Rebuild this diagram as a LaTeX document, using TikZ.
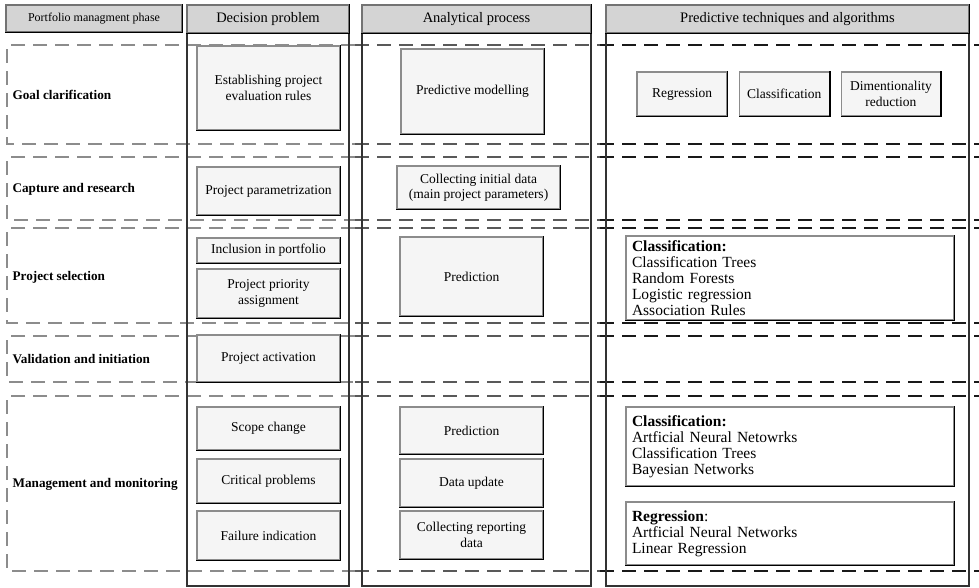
\documentclass[tikz,border=0pt]{standalone}
\usepackage{fontspec}
\setmainfont{Liberation Serif}
\usetikzlibrary{positioning}

\def\boxfont{\fontsize{13.5}{15.5}\selectfont}
\def\listfont{\fontsize{15.5}{16}\selectfont}

\begin{document}
\begin{tikzpicture}[x=1pt,y=-1pt,line width=1.2pt]
    \tikzstyle{raised}=[append after command={\pgfextra{\let\rnode\tikzlastnode}
        (\rnode.north east) edge[draw=black,line width=1.4pt] (\rnode.south east)
        (\rnode.south east) edge[draw=black,line width=1.4pt] (\rnode.south west)}]
    \tikzstyle{header}=[draw=black!55,fill=black!17,raised,inner sep=0pt,font=\fontsize{14.5}{16}\selectfont]
    \tikzstyle{task}=[draw=black!45,fill=black!4,raised,align=center,inner sep=0pt,font=\boxfont]
    \tikzstyle{method}=[draw=black!45,fill=white,raised,align=left,text width=316pt,inner xsep=6pt,inner ysep=0pt,font=\listfont]
    \tikzstyle{phase}=[anchor=west,inner sep=0pt,font=\fontsize{13.2}{16}\selectfont\bfseries]
    \tikzstyle{lane}=[dash pattern=on 14pt off 8pt,line width=1.5pt]

    \useasboundingbox (0,0) rectangle (979,587);

    % Draw the phase rows (dashed)
    \foreach \top/\bot in {45/144,157/220,228/323,336/382,396/571}
    {
        \draw[lane,black!45] (355,\top) -- (7,\top) -- (7,\bot) -- (355,\bot);
        \draw[lane,black!65] (355,\top) -- (600,\top) (355,\bot) -- (600,\bot);
        \draw[lane,black!90] (600,\top) -- (990,\top) (600,\bot) -- (990,\bot);
    }

    % Draw the columns
    \draw[black!80] (187,5) rectangle (349,586);
    \draw[black!80] (362,5) rectangle (591,586);
    \draw[black!80] (606,5) rectangle (969,586);

    % Draw the column headers
    \node[header,minimum width=176pt,minimum height=27pt,font=\fontsize{12}{14}\selectfont] (H-0) at (94,18.5) {Portfolio managment phase};
    \node[header,minimum width=162pt,minimum height=28pt] (H-1) at (268,19) {Decision problem};
    \node[header,minimum width=229pt,minimum height=28pt] (H-2) at (476.5,19) {Analytical process};
    \node[header,minimum width=363pt,minimum height=28pt] (H-3) at (787.5,19) {Predictive techniques and algorithms};

    % Draw the phase labels
    \node[phase] (F-1) at (12,95) {Goal clarification};
    \node[phase] (F-2) at (12,189) {Capture and research};
    \node[phase] (F-3) at (12,277) {Project selection};
    \node[phase] (F-4) at (12,359) {Validation and initiation};
    \node[phase] (F-5) at (12,484) {Management and monitoring};

    % Draw the decision problems
    \node[task,minimum width=143pt,minimum height=84pt] (D-1) at (268.5,88) {Establishing project\\evaluation rules};
    \node[task,minimum width=143pt,minimum height=48pt] (D-2) at (268.5,191) {Project parametrization};
    \node[task,minimum width=143pt,minimum height=25pt] (D-3) at (268.5,250.5) {Inclusion in portfolio};
    \node[task,minimum width=143pt,minimum height=49pt] (D-4) at (268.5,293.5) {Project priority\\assignment};
    \node[task,minimum width=143pt,minimum height=47pt] (D-5) at (268.5,358.5) {Project activation};
    \node[task,minimum width=143pt,minimum height=43pt] (D-6) at (268.5,428.5) {Scope change};
    \node[task,minimum width=143pt,minimum height=44pt] (D-7) at (268.5,481) {Critical problems};
    \node[task,minimum width=143pt,minimum height=49pt] (D-8) at (268.5,535.5) {Failure indication};

    % Draw the analytical process steps
    \node[task,minimum width=143pt,minimum height=85pt] (A-1) at (472.5,91.5) {Predictive modelling};
    \node[task,minimum width=163pt,minimum height=43pt] (A-2) at (478.5,187.5) {Collecting initial data\\(main project parameters)};
    \node[task,minimum width=143pt,minimum height=79pt] (A-3) at (471.5,276.5) {Prediction};
    \node[task,minimum width=143pt,minimum height=47pt] (A-4) at (471.5,430.5) {Prediction};
    \node[task,minimum width=143pt,minimum height=48pt] (A-5) at (471.5,483) {Data update};
    \node[task,minimum width=143pt,minimum height=48pt] (A-6) at (471.5,535) {Collecting reporting\\data};

    % Draw the techniques and algorithms
    \node[task,minimum width=90pt,minimum height=44pt] (P-1) at (682,94) {Regression};
    \node[task,minimum width=90pt,minimum height=44pt,right=11pt of P-1] (P-2) {Classification};
    \node[task,minimum width=99pt,minimum height=44pt,right=11pt of P-2] (P-3) {Dimentionality\\reduction};

    \node[method,minimum height=84pt] (M-1) at (790,278) {\textbf{Classification:}\\Classification Trees\\Random Forests\\Logistic regression\\Association Rules};
    \node[method,minimum height=79pt] (M-2) at (790,446.5) {\textbf{Classification:}\\Artficial Neural Netowrks\\Classification Trees\\Bayesian Networks};
    \node[method,minimum height=63pt] (M-3) at (790,533.5) {\textbf{Regression}:\\Artficial Neural Networks\\Linear Regression};
\end{tikzpicture}
\end{document}
